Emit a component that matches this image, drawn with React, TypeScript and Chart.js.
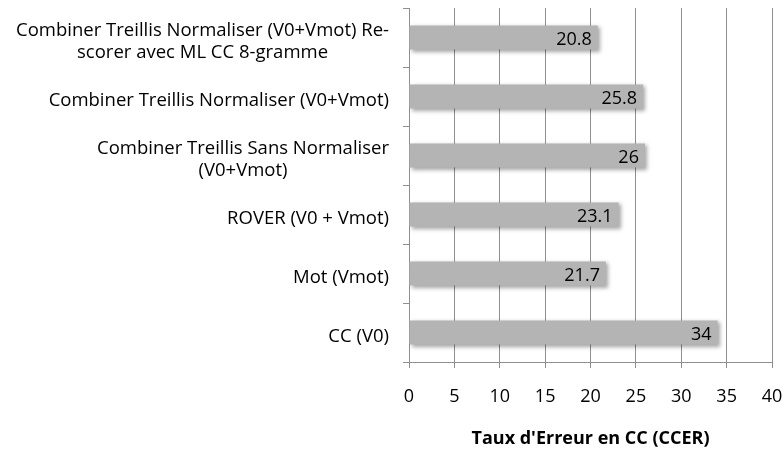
import React, { useEffect, useRef } from "react";
import { Chart, registerables } from "chart.js";

Chart.register(...registerables);

const categories: string[][] = [
  ["Combiner Treillis Normaliser (V0+Vmot) Re-", "scorer avec ML CC 8-gramme"],
  ["Combiner Treillis Normaliser (V0+Vmot)"],
  ["Combiner Treillis Sans Normaliser", "(V0+Vmot)"],
  ["ROVER (V0 + Vmot)"],
  ["Mot (Vmot)"],
  ["CC (V0)"],
];
const values: number[] = [20.8, 25.8, 26, 23.1, 21.7, 34];
const xMin = 0;
const xMax = 40;
const xStep = 5;
const axisTitle = "Taux d'Erreur en CC (CCER)";

const FONT = "'Open Sans', sans-serif";

const shadowPlugin = {
  id: "barShadow",
  beforeDatasetsDraw(chart: any) {
    const ctx = chart.ctx;
    ctx.save();
    ctx.shadowColor = "rgba(0,0,0,0.35)";
    ctx.shadowOffsetX = 2;
    ctx.shadowOffsetY = 2;
    ctx.shadowBlur = 4;
  },
  afterDatasetsDraw(chart: any) {
    chart.ctx.restore();
    const ctx = chart.ctx;
    const meta = chart.getDatasetMeta(0);
    ctx.save();
    ctx.font = `18px ${FONT}`;
    ctx.fillStyle = "#000";
    ctx.textAlign = "right";
    ctx.textBaseline = "middle";
    meta.data.forEach((bar: any, i: number) => {
      ctx.fillText(String(values[i]), bar.x - 6, bar.y + 2);
    });
    ctx.restore();
  },
};

const yLabelPlugin = {
  id: "yLabels",
  afterDraw(chart: any) {
    const ctx = chart.ctx;
    const yScale = chart.scales.y;
    const right = chart.chartArea.left - 20;
    const lh = 22;
    ctx.save();
    ctx.font = `18.5px ${FONT}`;
    ctx.fillStyle = "#000";
    ctx.textAlign = "center";
    ctx.textBaseline = "middle";
    categories.forEach((lines, i) => {
      const cy = yScale.getPixelForValue(i) + 4;
      const maxW = Math.max(...lines.map((l) => ctx.measureText(l).width));
      const cx = right - maxW / 2;
      const startY = cy - ((lines.length - 1) * lh) / 2;
      lines.forEach((l, j) => ctx.fillText(l, cx, startY + j * lh));
    });
    ctx.restore();
  },
};

export default function App() {
  const ref = useRef<HTMLCanvasElement>(null);
  useEffect(() => {
    document.body.style.margin = "0";
    const chart = new Chart(ref.current!, {
      type: "bar",
      data: {
        labels: categories.map((c) => c.join(" ")),
        datasets: [
          {
            data: values,
            backgroundColor: "#b4b4b4",
            borderWidth: 0,
            barPercentage: 0.82,
            categoryPercentage: 0.5,
          },
        ],
      },
      options: {
        indexAxis: "y",
        responsive: false,
        animation: false,
        layout: { padding: { left: 0, right: 0, top: 8, bottom: 0 } },
        plugins: { legend: { display: false }, tooltip: { enabled: false } },
        scales: {
          x: {
            min: xMin,
            max: xMax,
            ticks: {
              stepSize: xStep,
              color: "#000",
              font: { family: FONT, size: 18 },
              padding: 18,
              maxRotation: 0,
            },
            grid: { color: "#8f8f8f", tickLength: 6, lineWidth: 1 },
            border: { color: "#8f8f8f" },
            title: {
              display: true,
              text: axisTitle,
              color: "#000",
              font: { family: FONT, size: 18, weight: "bold" },
              padding: { top: 0, bottom: 0 },
            },
            afterFit(scale: any) {
              scale.height = 88;
              scale.paddingRight = 11;
              scale.paddingLeft = 0;
            },
          },
          y: {
            ticks: { color: "rgba(0,0,0,0)", font: { family: FONT, size: 2 }, padding: 0 },
            grid: {
              offset: true,
              drawOnChartArea: false,
              tickLength: 6,
              color: "#8f8f8f",
            },
            border: { color: "#8f8f8f" },
            afterFit(scale: any) {
              scale.width = 409;
            },
          },
        },
      },
      plugins: [shadowPlugin, yLabelPlugin],
    });
    return () => chart.destroy();
  }, []);
  return (
    <div style={{ width: 783, height: 450 }}>
      <canvas ref={ref} width={783} height={450} />
    </div>
  );
}
